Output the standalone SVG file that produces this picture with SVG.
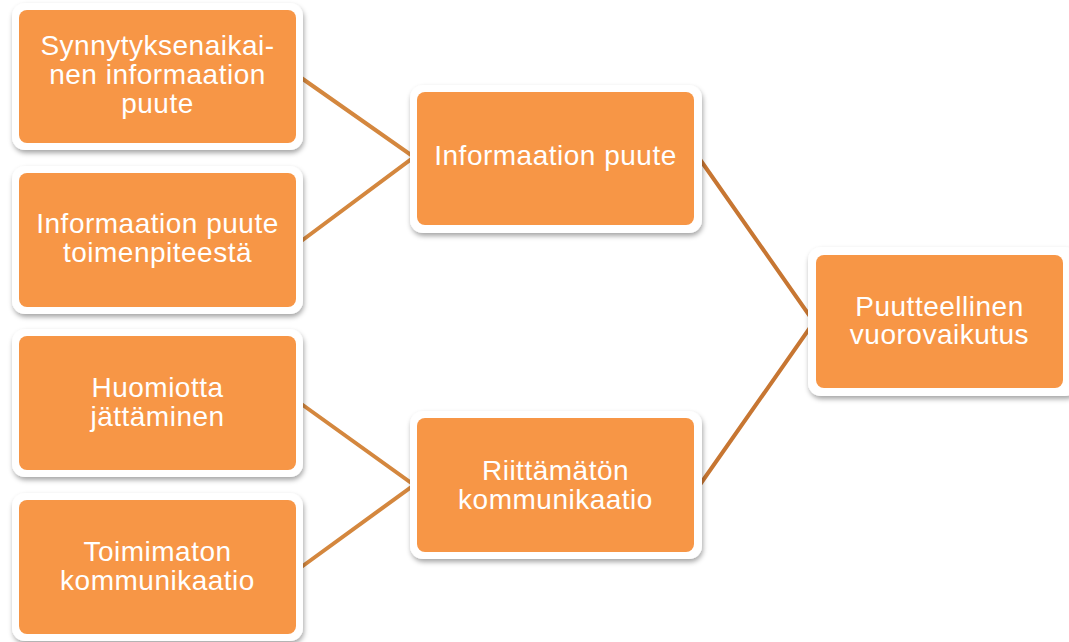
<svg xmlns="http://www.w3.org/2000/svg" width="1069" height="642" viewBox="0 0 1069 642">
  <defs>
    <filter id="sh" x="-10%" y="-10%" width="125%" height="130%">
      <feDropShadow dx="1" dy="3" stdDeviation="2.5" flood-color="#000" flood-opacity="0.35"/>
    </filter>
  </defs>
  <style>
    .outer { fill: #ffffff; filter: url(#sh); }
    .inner { fill: #F79646; }
    .lbl { font-family: "Liberation Sans", Arial, sans-serif; font-size: 28px; letter-spacing: 0.5px; fill: #ffffff; text-anchor: middle; }
    .cl { stroke: #D4873E; stroke-width: 4; fill: none; stroke-linejoin: miter; }
    .cr { stroke: #C77632; stroke-width: 4; fill: none; stroke-linejoin: miter; }
  </style>
  <rect width="1069" height="642" fill="#ffffff"/>
  <g id="connectors">
    <polyline class="cl" points="300,77 414,157 300,242"/>
    <polyline class="cl" points="300,403 414,485 300,568"/>
    <polyline class="cr" points="699,158 814,322 699,486"/>
  </g>
  <g id="n1">
    <rect class="outer" x="12" y="3" width="291" height="147" rx="13"/>
    <rect class="inner" x="19" y="10" width="277" height="133" rx="8"/>
    <text class="lbl" x="157.5" y="55">Synnytyksenaikai-</text>
    <text class="lbl" x="157.5" y="84">nen informaation</text>
    <text class="lbl" x="157.5" y="113">puute</text>
  </g>
  <g id="n2">
    <rect class="outer" x="12" y="166" width="291" height="148" rx="13"/>
    <rect class="inner" x="19" y="173" width="277" height="134" rx="8"/>
    <text class="lbl" x="157.5" y="233">Informaation puute</text>
    <text class="lbl" x="157.5" y="262">toimenpiteestä</text>
  </g>
  <g id="n3">
    <rect class="outer" x="12" y="329" width="291" height="148" rx="13"/>
    <rect class="inner" x="19" y="336" width="277" height="134" rx="8"/>
    <text class="lbl" x="157.5" y="397">Huomiotta</text>
    <text class="lbl" x="157.5" y="426">jättäminen</text>
  </g>
  <g id="n4">
    <rect class="outer" x="12" y="493" width="291" height="148" rx="13"/>
    <rect class="inner" x="19" y="500" width="277" height="134" rx="8"/>
    <text class="lbl" x="157.5" y="561">Toimimaton</text>
    <text class="lbl" x="157.5" y="590">kommunikaatio</text>
  </g>
  <g id="m1">
    <rect class="outer" x="410" y="85" width="292" height="148" rx="13"/>
    <rect class="inner" x="417" y="92" width="277" height="133" rx="8"/>
    <text class="lbl" x="555.5" y="165">Informaation puute</text>
  </g>
  <g id="m2">
    <rect class="outer" x="410" y="411" width="292" height="148" rx="13"/>
    <rect class="inner" x="417" y="418" width="277" height="134" rx="8"/>
    <text class="lbl" x="555.5" y="480">Riittämätön</text>
    <text class="lbl" x="555.5" y="509">kommunikaatio</text>
  </g>
  <g id="r1">
    <rect class="outer" x="808" y="247" width="270" height="149" rx="13"/>
    <rect class="inner" x="816" y="255" width="247" height="133" rx="8"/>
    <text class="lbl" x="939.5" y="316">Puutteellinen</text>
    <text class="lbl" x="939.5" y="344">vuorovaikutus</text>
  </g>
</svg>
